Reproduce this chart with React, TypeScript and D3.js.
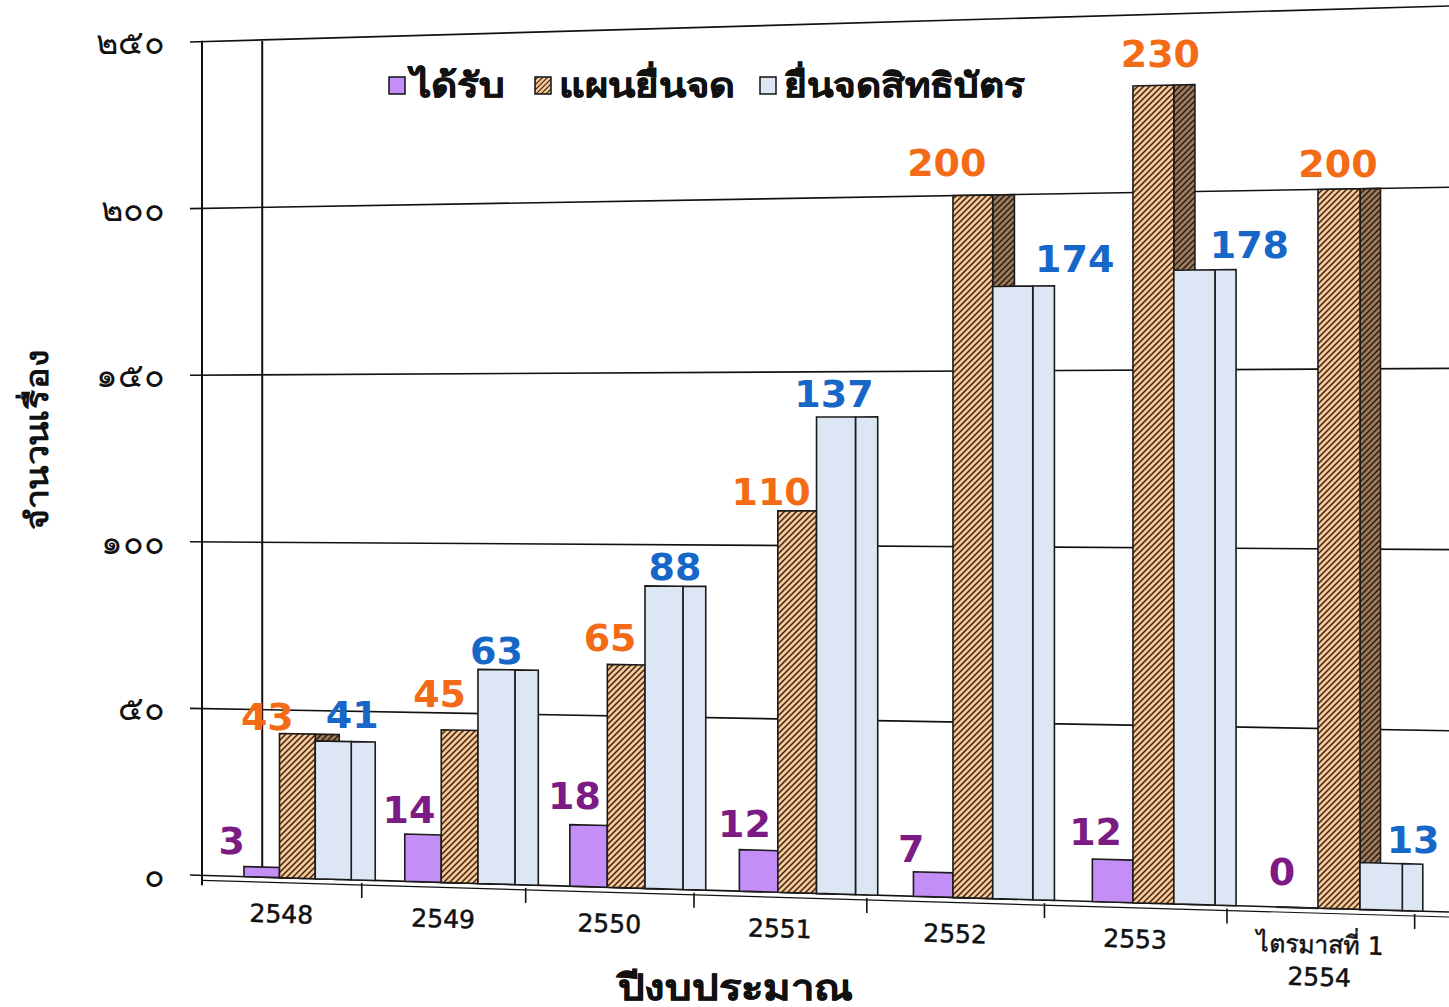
import React from 'react';
import * as d3 from 'd3';

// ---------------- data ----------------
const categories = ['2548', '2549', '2550', '2551', '2552', '2553', '2554Q1'];
const categoryLabels = [['2548'], ['2549'], ['2550'], ['2551'], ['2552'], ['2553'], ['ไตรมาสที่ 1', '2554']];
const seriesNames = ['ได้รับ', 'แผนยื่นจด', 'ยื่นจดสิทธิบัตร'];
const received = [3, 14, 18, 12, 7, 12, 0];
const planned = [43, 45, 65, 110, 200, 230, 200];
const filed = [41, 63, 88, 137, 174, 178, 13];
const yTicks = [0, 50, 100, 150, 200, 250];
const yTitle = 'จำนวนเรื่อง';
const xTitle = 'ปีงบประมาณ';

// ---------------- layout / style ----------------
const W = 1449;
const H = 1007;
// horizontal perspective (category units -> screen x)
const PA = 155.1;
const PX0 = 202;
const PC = -0.01282;
// gridline geometry: bottom (value 0) and top (value 250) lines in screen space
const GX0 = 190;
const YB0 = 875;
const SB = 37 / 1259;
const YT0 = 42;
const ST = -36 / 1259;
const WALL_DEPTH = 0.38;

const colors = {
  purple: '#C48EF7',
  blueFill: '#DCE6F5',
  labelPurple: '#7D1B84',
  labelOrange: '#F36A17',
  labelBlue: '#1667C8',
  stroke: '#1b1b1b',
};

// label offsets (px) relative to bar front centre / bar top, per series
const labelDx = [
  [-30, -14, -14, -14, -22, -17, -15],
  [-30, -20, -16, -26, -26, 7, -1],
  [19, 0, 11, -2, 62, 55, 32],
];
const labelDy = [
  [-27, -25, -30, -27, -24, -28, -36],
  [-17, -37, -27, -20, -33, -32, -26],
  [-27, -19, -20, -24, -28, -26, -24],
];

const thaiDigits = '๐๑๒๓๔๕๖๗๘๙';
const toThai = (n: number) => String(n).replace(/\d/g, (d) => thaiDigits[+d]);

const vScale = d3.scaleLinear().domain([0, 250]).range([0, 1]);
const catScale = d3.scaleBand<string>().domain(categories).range([0, categories.length]).padding(0);
const serScale = d3.scaleBand<string>().domain(seriesNames).range([0.265, 0.935]).padding(0);
// side-face depth in px, slightly shrinking toward the right
const sideDepth = d3.scaleLinear().domain([0, categories.length - 1]).range([24, 20.5]);

const xProj = (k: number) => (PA * k + PX0) / (1 + PC * k);
const yAt = (X: number, v: number) => {
  const yb = YB0 + (X - GX0) * SB;
  const yt = YT0 + (X - GX0) * ST;
  return yb + vScale(v) * (yt - yb);
};
const pt = (k: number, v: number): [number, number] => {
  const X = xProj(k);
  return [X, yAt(X, v)];
};
const quadX = (X0: number, X1: number, v0: number, v1: number) =>
  [
    [X0, yAt(X0, v0)],
    [X0, yAt(X0, v1)],
    [X1, yAt(X1, v1)],
    [X1, yAt(X1, v0)],
  ]
    .map((p) => p.join(','))
    .join(' ');

const FONT = "Tahoma, 'DejaVu Sans', 'Noto Sans', sans-serif";
const NUMFONT = "'DejaVu Sans', Verdana, sans-serif";

export default function App() {
  const values = [received, planned, filed];
  const fills = [colors.purple, 'url(#hatchFront)', colors.blueFill];
  const sideFills = [colors.purple, 'url(#hatchSide)', colors.blueFill];
  const labelColors = [colors.labelPurple, colors.labelOrange, colors.labelBlue];
  const bw = serScale.bandwidth();
  const slopeDeg = (Math.atan(SB) * 180) / Math.PI;

  return (
    <svg
      width={W}
      height={H}
      viewBox={`0 0 ${W} ${H}`}
      style={{ position: 'fixed', left: 0, top: 0, background: '#fff' }}
    >
      <defs>
        <pattern id="hatchFront" patternUnits="userSpaceOnUse" width="6" height="6">
          <rect width="6" height="6" fill="#F7C795" />
          <path d="M-1,1 l2,-2 M0,6 l6,-6 M5,7 l2,-2" stroke="#3b2413" strokeWidth="1.5" />
        </pattern>
        <pattern id="hatchSide" patternUnits="userSpaceOnUse" width="6" height="6">
          <rect width="6" height="6" fill="#9C7C60" />
          <path d="M-1,1 l2,-2 M0,6 l6,-6 M5,7 l2,-2" stroke="#2d1a0c" strokeWidth="1.5" />
        </pattern>
        <pattern id="hatchLegend" patternUnits="userSpaceOnUse" width="5" height="5">
          <rect width="5" height="5" fill="#F7C795" />
          <path d="M-1,1 l2,-2 M0,5 l5,-5 M4,6 l2,-2" stroke="#3b2413" strokeWidth="1.2" />
        </pattern>
      </defs>
      <rect width={W} height={H} fill="#fff" />

      {/* gridlines */}
      {yTicks.map((t) => (
        <line
          key={'g' + t}
          x1={GX0}
          y1={yAt(GX0, t)}
          x2={W}
          y2={yAt(W, t)}
          stroke="#111"
          strokeWidth={1.6}
        />
      ))}
      {/* walls / axis */}
      <line x1={PX0} y1={yAt(PX0, 250) - 1} x2={PX0} y2={yAt(PX0, 0) + 10} stroke="#111" strokeWidth={2} />
      <line
        x1={xProj(WALL_DEPTH)}
        y1={yAt(xProj(WALL_DEPTH), 250) + 1}
        x2={xProj(WALL_DEPTH)}
        y2={yAt(xProj(WALL_DEPTH), 0)}
        stroke="#111"
        strokeWidth={2}
      />
      {/* floor front edge */}
      <line x1={PX0} y1={yAt(PX0, 0) + 5} x2={W} y2={yAt(W, 0) + 5} stroke="#111" strokeWidth={1.2} />
      {d3.range(1, categories.length + 1).map((k) => {
        const [x, y] = pt(k, 0);
        return <line key={'t' + k} x1={x} y1={y + 3} x2={x} y2={y + 18} stroke="#111" strokeWidth={1.6} />;
      })}

      {/* y tick labels */}
      {yTicks.map((t) => (
        <text
          key={'yl' + t}
          x={165}
          y={yAt(GX0, t)}
          dy="0.35em"
          textAnchor="end"
          fontFamily={FONT}
          fontSize={34}
          fill="#111"
        >
          {toThai(t)}
        </text>
      ))}

      {/* bars */}
      {categories.map((c, ci) => {
        const k = catScale(c)!;
        const depth = sideDepth(ci);
        return (
          <g key={c}>
            {seriesNames.map((s, si) => {
              const v = values[si][ci];
              const X0 = xProj(k + serScale(s)!);
              const X1 = xProj(k + serScale(s)! + bw);
              if (v <= 0) {
                return (
                  <line key={s} x1={X0} y1={yAt(X0, 0)} x2={X1} y2={yAt(X1, 0)} stroke="#222" strokeWidth={2} />
                );
              }
              return (
                <g key={s}>
                  <polygon
                    points={quadX(X1, X1 + depth, 0, v)}
                    fill={sideFills[si]}
                    stroke={colors.stroke}
                    strokeWidth={1.6}
                  />
                  <polygon points={quadX(X0, X1, 0, v)} fill={fills[si]} stroke={colors.stroke} strokeWidth={1.6} />
                </g>
              );
            })}
          </g>
        );
      })}

      {/* value labels */}
      {categories.map((c, ci) => {
        const k = catScale(c)!;
        return seriesNames.map((s, si) => {
          const v = values[si][ci];
          const kc = k + serScale(s)! + bw / 2;
          const [x, y] = pt(kc, v);
          return (
            <text
              key={c + s}
              x={x + labelDx[si][ci]}
              y={y + labelDy[si][ci]}
              dy="0.36em"
              textAnchor="middle"
              fontFamily={NUMFONT}
              fontWeight="bold"
              fontSize={38}
              fill={labelColors[si]}
            >
              {v}
            </text>
          );
        });
      })}

      {/* category labels */}
      {categories.map((c, ci) => {
        const k = catScale(c)! + catScale.bandwidth() / 2;
        const [x, y] = pt(k, 0);
        const lines = categoryLabels[ci];
        return (
          <text
            key={'cl' + c}
            transform={`translate(${x},${y + 36}) rotate(${slopeDeg})`}
            textAnchor="middle"
            fontFamily={FONT}
            fontSize={25}
            fill="#111"
            stroke="#111"
            strokeWidth={0.5}
          >
            {lines.map((l, li) => (
              <tspan key={li} x={0} dy={li === 0 ? '0.36em' : '1.3em'}>
                {l}
              </tspan>
            ))}
          </text>
        );
      })}

      {/* legend */}
      <g fontFamily={FONT} fontWeight="bold" fontSize={34} fill="#111" stroke="#111" strokeWidth={0.6}>
        <rect x={389} y={77} width={16} height={17} fill={colors.purple} stroke="#111" strokeWidth={1.5} />
        <text x={411} y={97} textLength={94} lengthAdjust="spacingAndGlyphs">
          {seriesNames[0]}
        </text>
        <rect x={535} y={77} width={16} height={17} fill="url(#hatchLegend)" stroke="#111" strokeWidth={1.5} />
        <text x={559} y={97} textLength={176} lengthAdjust="spacingAndGlyphs">
          {seriesNames[1]}
        </text>
        <rect x={760} y={77} width={16} height={17} fill={colors.blueFill} stroke="#111" strokeWidth={1.5} />
        <text x={784} y={97} textLength={241} lengthAdjust="spacingAndGlyphs">
          {seriesNames[2]}
        </text>
      </g>

      {/* axis titles */}
      <text
        transform={`translate(48,440) rotate(-90)`}
        textAnchor="middle"
        fontFamily={FONT}
        fontWeight="bold"
        fontSize={31}
        fill="#111"
        textLength={180}
        lengthAdjust="spacingAndGlyphs"
      >
        {yTitle}
      </text>
      <text
        x={735}
        y={1000}
        textAnchor="middle"
        fontFamily={FONT}
        fontWeight="bold"
        fontSize={36}
        fill="#111"
        stroke="#111"
        strokeWidth={0.5}
        textLength={235}
        lengthAdjust="spacingAndGlyphs"
      >
        {xTitle}
      </text>
    </svg>
  );
}
